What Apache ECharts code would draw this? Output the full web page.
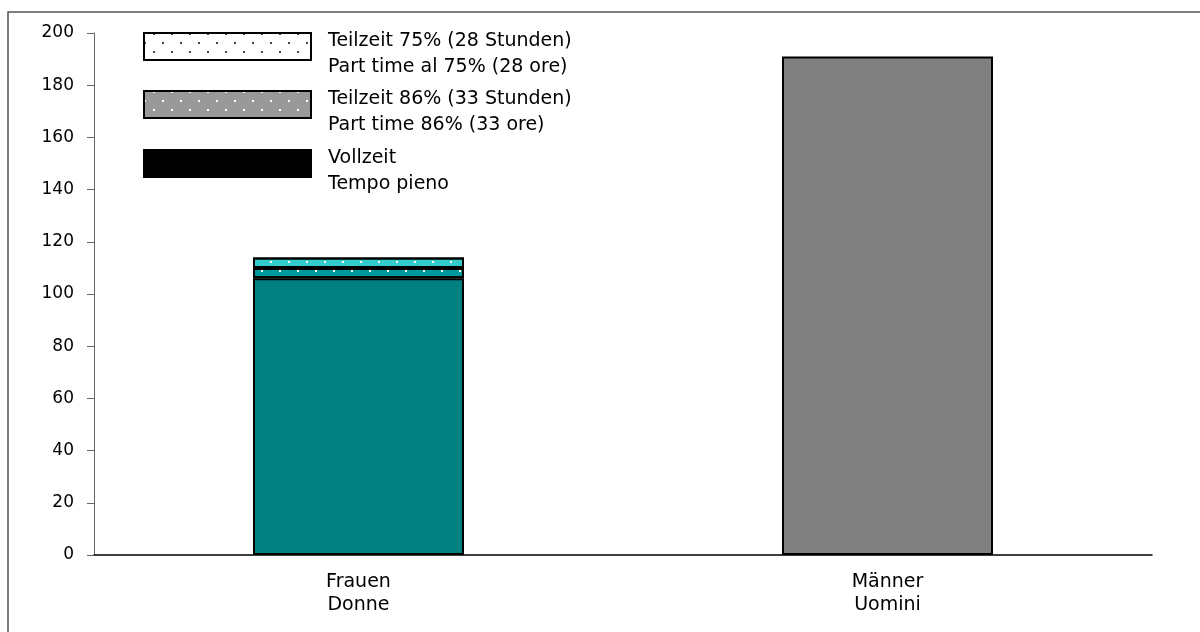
<!DOCTYPE html>
<html>
<head>
<meta charset="utf-8">
<script src="https://cdn.jsdelivr.net/npm/echarts@6/dist/echarts.min.js"></script>
<style>html,body{margin:0;padding:0;background:#fff}#c{width:1200px;height:632px}</style>
</head>
<body>
<div id="c"></div>
<script>
const categories = ['Frauen\nDonne', 'Männer\nUomini'];
const seriesNames = ['Teilzeit 75% (28 Stunden)\nPart time al 75% (28 ore)', 'Teilzeit 86% (33 Stunden)\nPart time 86% (33 ore)', 'Vollzeit\nTempo pieno'];
const vollzeit = [106, 191];
const teilzeit86 = [4, null];
const teilzeit75 = [4, null];
const yTicks = [0, 200, 20];

const font = 'DejaVu Sans, Liberation Sans, sans-serif';
const dotDecal = {symbol: 'rect', symbolSize: 1, color: '#ffffff', dashArrayX: [[2, 16], [0, 9, 2, 7]], dashArrayY: [2, 7], rotation: 0};
const dotDecalDark = {symbol: 'rect', symbolSize: 1, color: '#444444', dashArrayX: [[2, 16], [0, 9, 2, 7]], dashArrayY: [2, 7], rotation: 0};

// legend swatch: 167x27 rectangle drawn in the upper part of a 167x43 box
const legendIcon = 'path://M0,0H167V27H0Z M0,43';
const legendTops = [8.5, 66.5, 125.5];
const legends = seriesNames.map((n, i) => ({
  orient: 'vertical', left: 138, top: legendTops[i],
  icon: legendIcon, itemWidth: 167, itemHeight: 43, itemGap: 0,
  data: [n],
  selectedMode: false,
  textStyle: {fontFamily: font, fontSize: 19, color: '#000', lineHeight: 26, padding: [30, 0, 0, 12]}
}));

const chart = echarts.init(document.getElementById('c'), null, {renderer: 'canvas'});
chart.setOption({
  animation: false,
  backgroundColor: '#fff',
  textStyle: {fontFamily: font},
  graphic: [{type: 'rect', shape: {x: 8, y: 12, width: 1200, height: 640}, style: {fill: 'none', stroke: '#555', lineWidth: 1.5}, silent: true, z: 0}],
  grid: {left: 94, right: 48, top: 33, bottom: 77},
  legend: legends,
  xAxis: {
    type: 'category', data: categories,
    axisLine: {lineStyle: {color: '#000', width: 1.5}},
    axisTick: {show: false},
    axisLabel: {fontFamily: font, fontSize: 19, color: '#000', lineHeight: 23, margin: 16}
  },
  yAxis: {
    type: 'value', min: yTicks[0], max: yTicks[1], interval: yTicks[2],
    splitLine: {show: false},
    axisLine: {show: true, lineStyle: {color: '#666', width: 1}},
    axisTick: {show: true, inside: false, length: 7, lineStyle: {color: '#666'}},
    axisLabel: {fontFamily: font, fontSize: 17, color: '#000', margin: 20}
  },
  series: [
    {name: seriesNames[2], type: 'bar', stack: 's', barWidth: 211,
     itemStyle: {color: '#000', borderColor: '#000', borderWidth: 2},
     data: vollzeit.map((v, i) => ({value: v, itemStyle: {color: i === 0 ? '#008080' : '#808080'}}))},
    {name: seriesNames[1], type: 'bar', stack: 's', barWidth: 211,
     itemStyle: {color: '#999999', borderColor: '#000', borderWidth: 2, decal: dotDecal},
     data: teilzeit86.map(v => ({value: v, itemStyle: {color: '#009999'}}))},
    {name: seriesNames[0], type: 'bar', stack: 's', barWidth: 211,
     itemStyle: {color: '#ffffff', borderColor: '#000', borderWidth: 2, decal: dotDecalDark},
     data: teilzeit75.map(v => ({value: v, itemStyle: {color: '#33CCCC', decal: dotDecal}}))}
  ]
});
</script>
</body>
</html>
